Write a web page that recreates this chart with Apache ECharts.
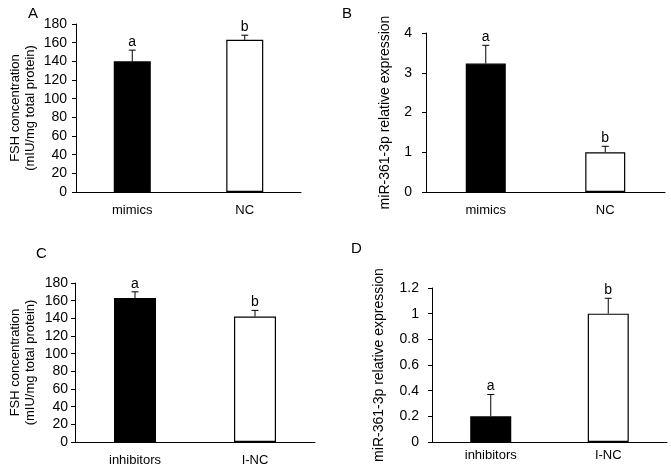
<!DOCTYPE html>
<html><head><meta charset="utf-8">
<script src="https://cdn.jsdelivr.net/npm/echarts@6/dist/echarts.min.js"></script>
<style>html,body{margin:0;padding:0;background:#fff}#c{width:671px;height:471px}</style>
</head><body><div id="c"></div>
<script>
const catsAB = ['mimics', 'NC'];
const catsCD = ['inhibitors', 'I-NC'];
const letters = ['a', 'b'];
const fshA = [140, 163];
const errA = [12, 5];
const mirB = [3.23, 1.0];
const errB = [0.46, 0.15];
const fshC = [163, 142];
const errC = [7, 7];
const mirD = [0.20, 1.0];
const errD = [0.17, 0.12];
const ticksFSH = { min: 0, max: 180, interval: 20 };
const ticksB = { min: 0, max: 4, interval: 1 };
const ticksD = { min: 0, max: 1.2, interval: 0.2 };

const FONT = 'Liberation Sans';
const chart = echarts.init(document.getElementById('c'), null, { renderer: 'canvas' });

function xAx(idx, cats, margin) {
  return {
    type: 'category', gridIndex: idx, data: cats,
    axisLine: { lineStyle: { color: '#000', width: 1 } },
    axisTick: { length: 4, lineStyle: { color: '#000' } },
    axisLabel: { color: '#000', fontSize: 13, fontFamily: FONT, margin: margin }
  };
}
function yAx(idx, t, name, nameSize, gap, margin) {
  return {
    type: 'value', gridIndex: idx, min: t.min, max: t.max, interval: t.interval,
    name: name, nameLocation: 'middle', nameRotate: 90, nameGap: gap,
    nameTextStyle: { color: '#000', fontSize: nameSize, fontFamily: FONT, lineHeight: 15 },
    axisLine: { show: true, lineStyle: { color: '#000', width: 1 } },
    axisTick: { show: true, length: 4, lineStyle: { color: '#000' } },
    splitLine: { show: false },
    axisLabel: { color: '#000', fontSize: 14, fontFamily: FONT, margin: margin,
      formatter: v => String(+v.toFixed(2)) }
  };
}
function bars(idx, vals, bw) {
  return {
    type: 'bar', xAxisIndex: idx, yAxisIndex: idx, barWidth: bw,
    data: vals.map((v, i) => ({ value: v, itemStyle: { color: i === 0 ? '#000' : '#fff', borderColor: '#000', borderWidth: 1.2 } })),
    silent: true, animation: false
  };
}
function errs(idx, vals, e) {
  return {
    type: 'custom', xAxisIndex: idx, yAxisIndex: idx, animation: false, silent: true, z: 5,
    data: vals.map((v, i) => [i, v, e[i]]),
    renderItem: (params, api) => {
      const b = api.coord([api.value(0), api.value(1)]);
      const t = api.coord([api.value(0), api.value(1) + api.value(2)]);
      return {
        type: 'group', children: [
          { type: 'line', shape: { x1: b[0], y1: b[1], x2: t[0], y2: t[1] }, style: { stroke: '#000', lineWidth: 1 } },
          { type: 'line', shape: { x1: t[0] - 3.5, y1: t[1], x2: t[0] + 3.5, y2: t[1] }, style: { stroke: '#000', lineWidth: 1 } },
          { type: 'text', x: t[0], y: t[1] - 1, style: { text: letters[params.dataIndex], textAlign: 'center', textVerticalAlign: 'bottom', font: '14px ' + FONT, fill: '#000' } }
        ]
      };
    }
  };
}

chart.setOption({
  backgroundColor: '#fff',
  animation: false,
  title: [
    { text: 'A', left: 23, top: 1, textStyle: { fontSize: 15, fontWeight: 'normal', fontFamily: FONT, color: '#000' } },
    { text: 'B', left: 337, top: 1, textStyle: { fontSize: 15, fontWeight: 'normal', fontFamily: FONT, color: '#000' } },
    { text: 'C', left: 31, top: 241, textStyle: { fontSize: 15, fontWeight: 'normal', fontFamily: FONT, color: '#000' } },
    { text: 'D', left: 346, top: 236, textStyle: { fontSize: 15, fontWeight: 'normal', fontFamily: FONT, color: '#000' } }
  ],
  grid: [
    { left: 76, top: 24, width: 225, height: 168 },
    { left: 426, top: 33, width: 239, height: 159 },
    { left: 75, top: 283, width: 240, height: 159 },
    { left: 432, top: 288, width: 235, height: 154 }
  ],
  xAxis: [xAx(0, catsAB, 12), xAx(1, catsAB, 12), xAx(2, catsCD, 12), xAx(3, catsCD, 7)],
  yAxis: [
    yAx(0, ticksFSH, 'FSH concentration\n(mIU/mg total protein)', 13, 38, 9),
    yAx(1, ticksB, 'miR-361-3p relative expression', 14, 33, 14),
    yAx(2, ticksFSH, 'FSH concentration\n(mIU/mg total protein)', 13, 37, 7),
    yAx(3, ticksD, 'miR-361-3p relative expression', 14, 45, 13)
  ],
  series: [
    bars(0, fshA, 37), errs(0, fshA, errA),
    bars(1, mirB, 40), errs(1, mirB, errB),
    bars(2, fshC, 42), errs(2, fshC, errC),
    bars(3, mirD, 41), errs(3, mirD, errD)
  ]
});
</script></body></html>
